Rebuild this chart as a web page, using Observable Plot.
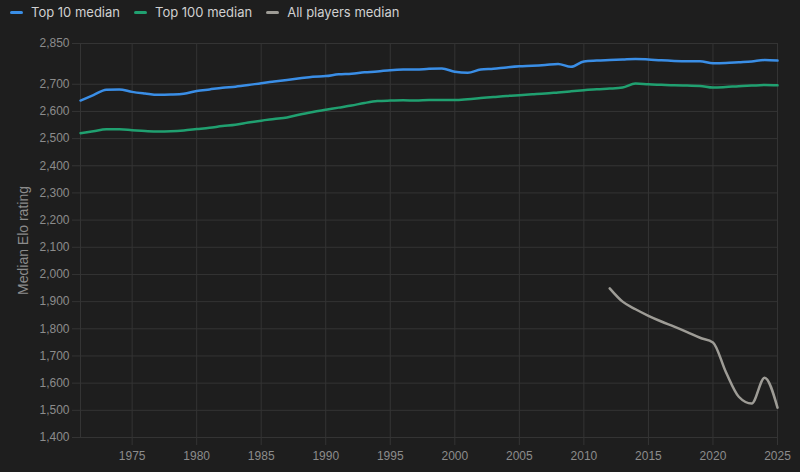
<!DOCTYPE html>
<html><head><meta charset="utf-8">
<script src="https://cdn.jsdelivr.net/npm/d3@7"></script>
<script src="https://cdn.jsdelivr.net/npm/@observablehq/plot@0.6"></script>
<style>
html,body{margin:0;padding:0;background:#1e1e1e;}
#legend{height:24px;display:flex;align-items:center;font-family:Inter, "Noto Sans", sans-serif;font-size:13px;color:#d0d0d0;padding-left:10px;box-sizing:border-box;}
.item{display:flex;align-items:center;margin-right:14px;}
.sw{width:13px;height:3px;border-radius:2px;margin-right:8px;}
svg{display:block;}
</style></head><body>
<div id="legend"></div><div id="chart"></div>
<script>
const years = [1971,1972,1973,1974,1975,1976,1977,1978,1979,1980,1981,1982,1983,1984,1985,1986,1987,1988,1989,1990,1991,1992,1993,1994,1995,1996,1997,1998,1999,2000,2001,2002,2003,2004,2005,2006,2007,2008,2009,2010,2011,2012,2013,2014,2015,2016,2017,2018,2019,2020,2021,2022,2023,2024,2025];
const top10 = [2640,2660,2680,2681,2672,2666,2661,2662,2665,2675,2681,2687,2691,2697,2704,2710,2716,2722,2728,2730,2737,2739,2744,2747,2752,2754,2754,2757,2758,2746,2742,2754,2757,2762,2766,2768,2771,2775,2764,2784,2787,2789,2791,2793,2791,2788,2786,2785,2785,2777,2778,2781,2784,2789,2787];
const top100 = [2520,2527,2534,2534,2531,2528,2526,2527,2530,2535,2540,2546,2551,2559,2566,2572,2578,2589,2598,2606,2614,2622,2631,2638,2640,2641,2640,2642,2642,2642,2645,2649,2653,2657,2660,2663,2666,2670,2674,2678,2682,2684,2688,2703,2700,2698,2696,2695,2694,2688,2690,2693,2695,2697,2696];
const allYears = [2012,2013,2014,2015,2016,2017,2018,2019,2020,2021,2022,2023,2024,2025];
const allPlayers = [1949,1900,1872,1848,1827,1808,1788,1767,1750,1641,1550,1525,1620,1510];
const seriesNames = ["Top 10 median","Top 100 median","All players median"];
const seriesColors = ["#3a8ee6","#20a070","#9e9c96"];
const yTicks = [1400,1500,1600,1700,1800,1900,2000,2100,2200,2300,2400,2500,2600,2700,2850];
const xTicks = [1975,1980,1985,1990,1995,2000,2005,2010,2015,2020,2025];

const legend = document.getElementById("legend");
seriesNames.forEach((n,i)=>{
  const it=document.createElement("div");it.className="item";
  const sw=document.createElement("div");sw.className="sw";sw.style.background=seriesColors[i];
  const t=document.createElement("span");t.textContent=n;
  it.appendChild(sw);it.appendChild(t);legend.appendChild(it);
});

const rows = [];
years.forEach((y,i)=>{rows.push({year:y,value:top10[i],s:seriesNames[0]});});
years.forEach((y,i)=>{rows.push({year:y,value:top100[i],s:seriesNames[1]});});
allYears.forEach((y,i)=>{rows.push({year:y,value:allPlayers[i],s:seriesNames[2]});});

const grid = "#343434";
const chart = Plot.plot({
  width:800, height:448,
  marginTop:19, marginBottom:35, marginLeft:80, marginRight:23,
  style:{background:"#1e1e1e", color:"#8c8c8c", fontFamily:"Liberation Sans, Arial, sans-serif", fontSize:"12px"},
  x:{domain:[1971,2025]},
  y:{domain:[1400,2850]},
  color:{domain:seriesNames, range:seriesColors},
  marks:[
    Plot.gridY(yTicks,{stroke:grid, strokeOpacity:1, strokeWidth:1}),
    Plot.gridX(xTicks,{stroke:grid, strokeOpacity:1, strokeWidth:1}),
    Plot.ruleX([1971],{stroke:grid}),
    Plot.axisY(yTicks,{tickFormat:d3.format(","), tickSize:8, tickPadding:3, stroke:grid, label:null, fontSize:12}),
    Plot.axisY([],{label:"Median Elo rating", labelAnchor:"center", labelArrow:"none", labelOffset:62, fontSize:14, tickSize:0}),
    Plot.axisX(xTicks,{tickFormat:d=>String(d), tickSize:8, tickPadding:6, stroke:grid, label:null, fontSize:12}),
    Plot.line(rows,{x:"year", y:"value", z:"s", stroke:"s", strokeWidth:2.5, curve:"monotone-x"})
  ]
});
document.getElementById("chart").appendChild(chart);
</script>
</body></html>
